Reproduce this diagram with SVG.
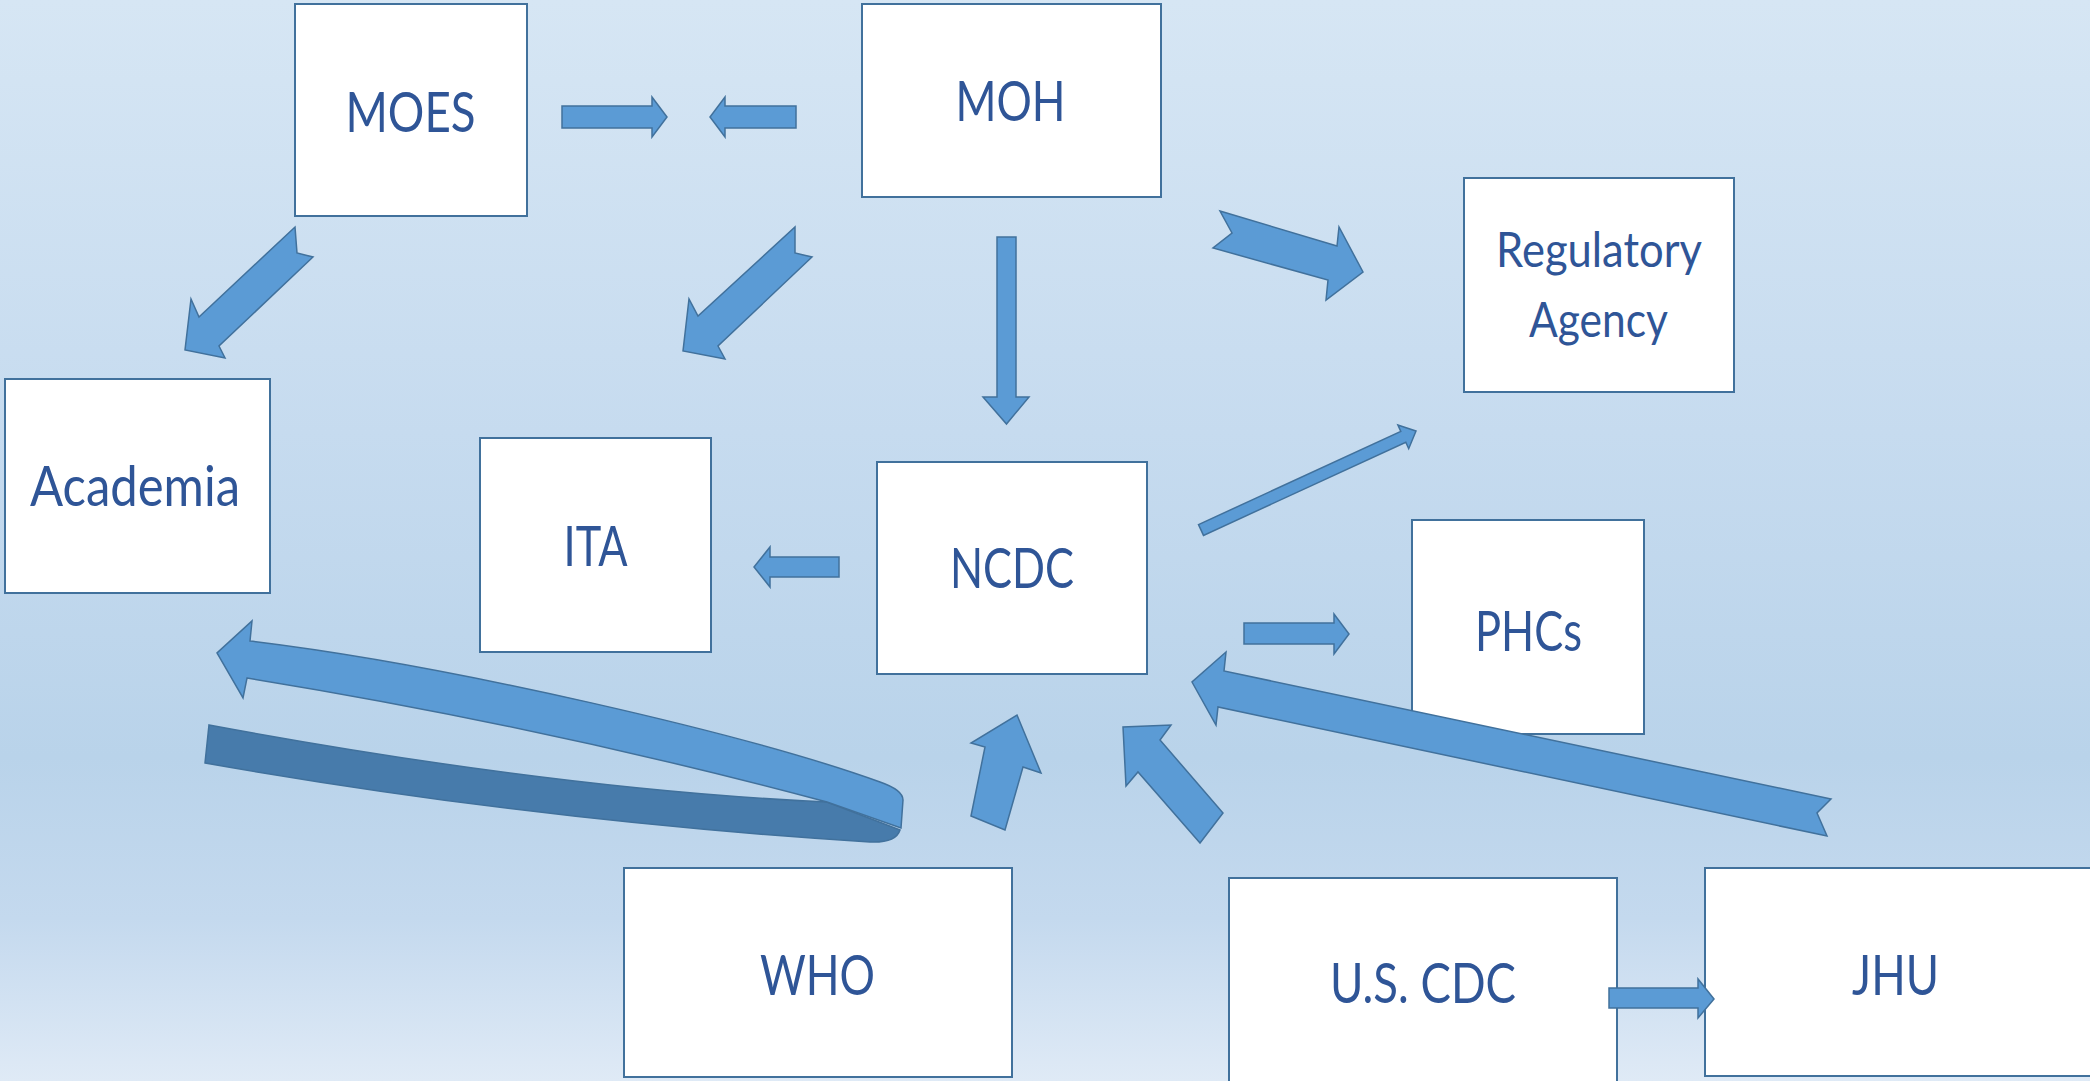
<svg xmlns="http://www.w3.org/2000/svg" width="2090" height="1081" viewBox="0 0 2090 1081">
<defs>
<linearGradient id="bg" x1="0" y1="0" x2="0" y2="1">
<stop offset="0" stop-color="#d6e6f4"/>
<stop offset="0.4" stop-color="#c6dbef"/>
<stop offset="0.7" stop-color="#b9d3ea"/>
<stop offset="0.85" stop-color="#c4d9ee"/>
<stop offset="1" stop-color="#dfeaf6"/>
</linearGradient>
</defs>
<style>
.box{fill:#ffffff;stroke:#41719c;stroke-width:2}
.lbl{font-family:Lato,"Open Sans","Liberation Sans",sans-serif;font-size:57px;fill:#2f5597;text-anchor:middle}
.sm{font-size:49px}
.arr{fill:#5b9bd5;stroke:#41719c;stroke-width:1.5;stroke-linejoin:miter}
.dark{fill:#477bab;stroke:#41719c;stroke-width:1.5}
</style>
<rect x="0" y="0" width="2090" height="1081" fill="url(#bg)"/>

<g id="nodes">
<g id="moes"><rect class="box" x="295" y="4" width="232" height="212"/><text class="lbl" x="410.5" y="132" textLength="130" lengthAdjust="spacingAndGlyphs">MOES</text></g>
<g id="moh"><rect class="box" x="862" y="4" width="299" height="193"/><text class="lbl" x="1010.5" y="121" textLength="110" lengthAdjust="spacingAndGlyphs">MOH</text></g>
<g id="regulatory"><rect class="box" x="1464" y="178" width="270" height="214"/><text class="lbl sm" x="1599" y="267" textLength="206" lengthAdjust="spacingAndGlyphs">Regulatory</text><text class="lbl sm" x="1598.5" y="337" textLength="139" lengthAdjust="spacingAndGlyphs">Agency</text></g>
<g id="academia"><rect class="box" x="5" y="379" width="265" height="214"/><text class="lbl" x="135" y="506" textLength="210" lengthAdjust="spacingAndGlyphs">Academia</text></g>
<g id="ita"><rect class="box" x="480" y="438" width="231" height="214"/><text class="lbl" x="595.5" y="566" textLength="64" lengthAdjust="spacingAndGlyphs">ITA</text></g>
<g id="ncdc"><rect class="box" x="877" y="462" width="270" height="212"/><text class="lbl" x="1012" y="588" textLength="124" lengthAdjust="spacingAndGlyphs">NCDC</text></g>
<g id="phcs"><rect class="box" x="1412" y="520" width="232" height="214"/><text class="lbl" x="1528.5" y="651" textLength="107" lengthAdjust="spacingAndGlyphs">PHCs</text></g>
<g id="who"><rect class="box" x="624" y="868" width="388" height="209"/><text class="lbl" x="817.5" y="995" textLength="115" lengthAdjust="spacingAndGlyphs">WHO</text></g>
<g id="uscdc"><rect class="box" x="1229" y="878" width="388" height="215"/><text class="lbl" x="1423" y="1003" textLength="186" lengthAdjust="spacingAndGlyphs">U.S. CDC</text></g>
<g id="jhu"><rect class="box" x="1705" y="868" width="400" height="208"/><text class="lbl" x="1895.5" y="995" textLength="87" lengthAdjust="spacingAndGlyphs">JHU</text></g>
</g>

<g id="connectors">
<path class="arr" d="M562,106 L652,106 L652,97 L667,117 L652,137 L652,128 L562,128 Z"/>
<path class="arr" d="M796,106 L725,106 L725,97 L710,117 L725,137 L725,128 L796,128 Z"/>
<path class="arr" d="M295,227 L297,253 L313,257 L219,346 L225,358 L185,350 L191,299 L199,317 Z"/>
<path class="arr" d="M795,227 L795,253 L812,257 L718,346 L725,359 L683,351 L689,299 L698,316 Z"/>
<path class="arr" d="M997,237 L1016,237 L1016,397 L1029,397 L1006.5,424 L983,397 L997,397 Z"/>
<path class="arr" d="M1220,211 L1337,246 L1339,227 L1363,272 L1326,300 L1328,280 L1213,248 L1232,233 Z"/>
<path class="arr" d="M1198.5,524.6 L1400.8,431.5 L1397.9,425.1 L1416,431 L1408.7,448.7 L1405.8,442.3 L1203.5,535.4 Z"/>
<path class="arr" d="M839,557 L770,557 L770,547 L754,567 L770,587 L770,577 L839,577 Z"/>
<path class="arr" d="M1244,623 L1334,623 L1334,614 L1349,634 L1334,654 L1334,644 L1244,644 Z"/>
<path class="arr" d="M971,816 L985,747 L971,743 L1017,715 L1041,773 L1023,767 L1005,830 Z"/>
<path class="arr" d="M1200,843 L1138,772 L1126,786 L1123,727 L1171,725 L1160,740 L1223,813 Z"/>
<path class="arr" d="M1831,799 L1224,671 L1226,652 L1192,682 L1216,725 L1218,707 L1827,836 L1817,813 Z"/>
<path class="arr" d="M1609,988 L1698,988 L1698,979 L1714,999 L1698,1018 L1698,1008 L1609,1008 Z"/>
<g id="who-academia">
<path class="dark" d="M209,725 Q560,790 827,802 L900,830 Q896,843 870,842 Q538.5,821.5 205,763 Z"/>
<path class="arr" d="M250,641 C450,665 750,735 880,782 Q903,790 903,800 L901,828 L827,802 Q543,726 247,678 L243,698 L217,653 L252,621 Z"/>
</g>
</g>
</svg>
